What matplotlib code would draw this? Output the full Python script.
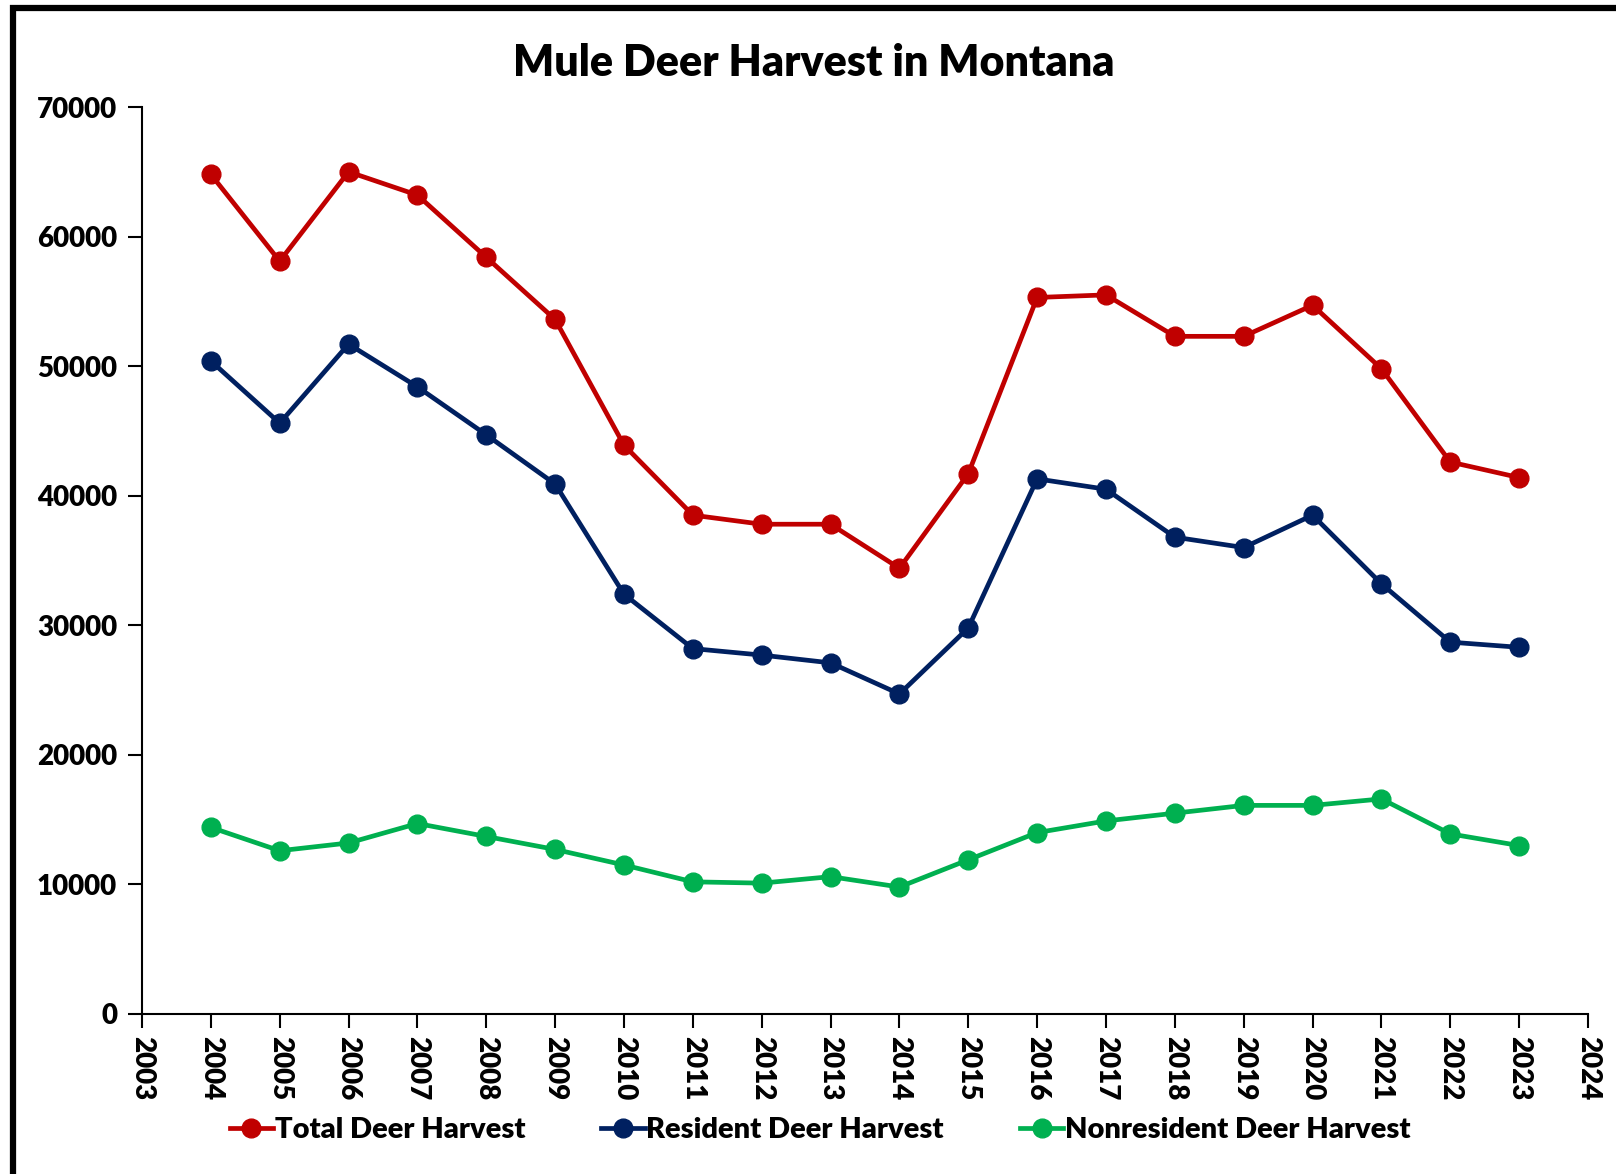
import numpy as np
import matplotlib.pyplot as plt
from matplotlib.patches import Rectangle

years = list(range(2004, 2024))
total = [64800, 58100, 65000, 63200, 58400, 53600, 43900, 38500, 37800, 37800,
         34400, 41700, 55300, 55500, 52300, 52300, 54700, 49800, 42600, 41400]
resident = [50400, 45600, 51700, 48400, 44700, 40900, 32400, 28200, 27700, 27100,
            24700, 29800, 41300, 40500, 36800, 36000, 38500, 33200, 28700, 28300]
nonresident = [14400, 12600, 13200, 14700, 13700, 12700, 11500, 10200, 10100, 10600,
               9800, 11900, 14000, 14900, 15500, 16100, 16100, 16600, 13900, 13000]

plt.rcParams['font.family'] = ['Lato', 'DejaVu Sans']
W = 'heavy'

fig = plt.figure(figsize=(16.16, 11.74), dpi=100)
ax = fig.add_axes([142/1616, 1 - 1014/1174, (1588-142)/1616, (1014-107)/1174])

ax.plot(years, total, color='#C00000', lw=3.4, marker='o', ms=13.5, label='Total Deer Harvest')
ax.plot(years, resident, color='#002060', lw=3.4, marker='o', ms=13.5, label='Resident Deer Harvest')
ax.plot(years, nonresident, color='#00B050', lw=3.4, marker='o', ms=13.5, label='Nonresident Deer Harvest')

ax.set_xlim(2003, 2024)
ax.set_ylim(0, 70000)
ax.set_xticks(range(2003, 2025))
ax.set_yticks(range(0, 70001, 10000))
ax.tick_params(axis='x', labelrotation=-90, labelsize=20, length=10, width=1.5, pad=6)
ax.tick_params(axis='y', labelsize=20, length=10, width=1.5, pad=8)
for lab in ax.get_xticklabels() + ax.get_yticklabels():
    lab.set_fontweight(W)
for s in ['top', 'right']:
    ax.spines[s].set_visible(False)
for s in ['left', 'bottom']:
    ax.spines[s].set_linewidth(1.5)

fig.text(814/1616, 1 - 63/1174, 'Mule Deer Harvest in Montana', ha='center', va='center',
         fontsize=31, fontweight=W)

fig.legend(loc='center', bbox_to_anchor=(820/1616, 1 - 1130/1174), ncol=3, frameon=False,
           prop={'size': 21, 'weight': W}, handlelength=1.5, handletextpad=0.05,
           columnspacing=2.6)

# frame of the screenshot
fig.patches.append(Rectangle((12.5/1616, -0.05), 1.1, 1 - 8/1174 + 0.05,
                             transform=fig.transFigure, fill=False, lw=4.5, ec='black'))

fig.savefig('out.png', dpi=100)
